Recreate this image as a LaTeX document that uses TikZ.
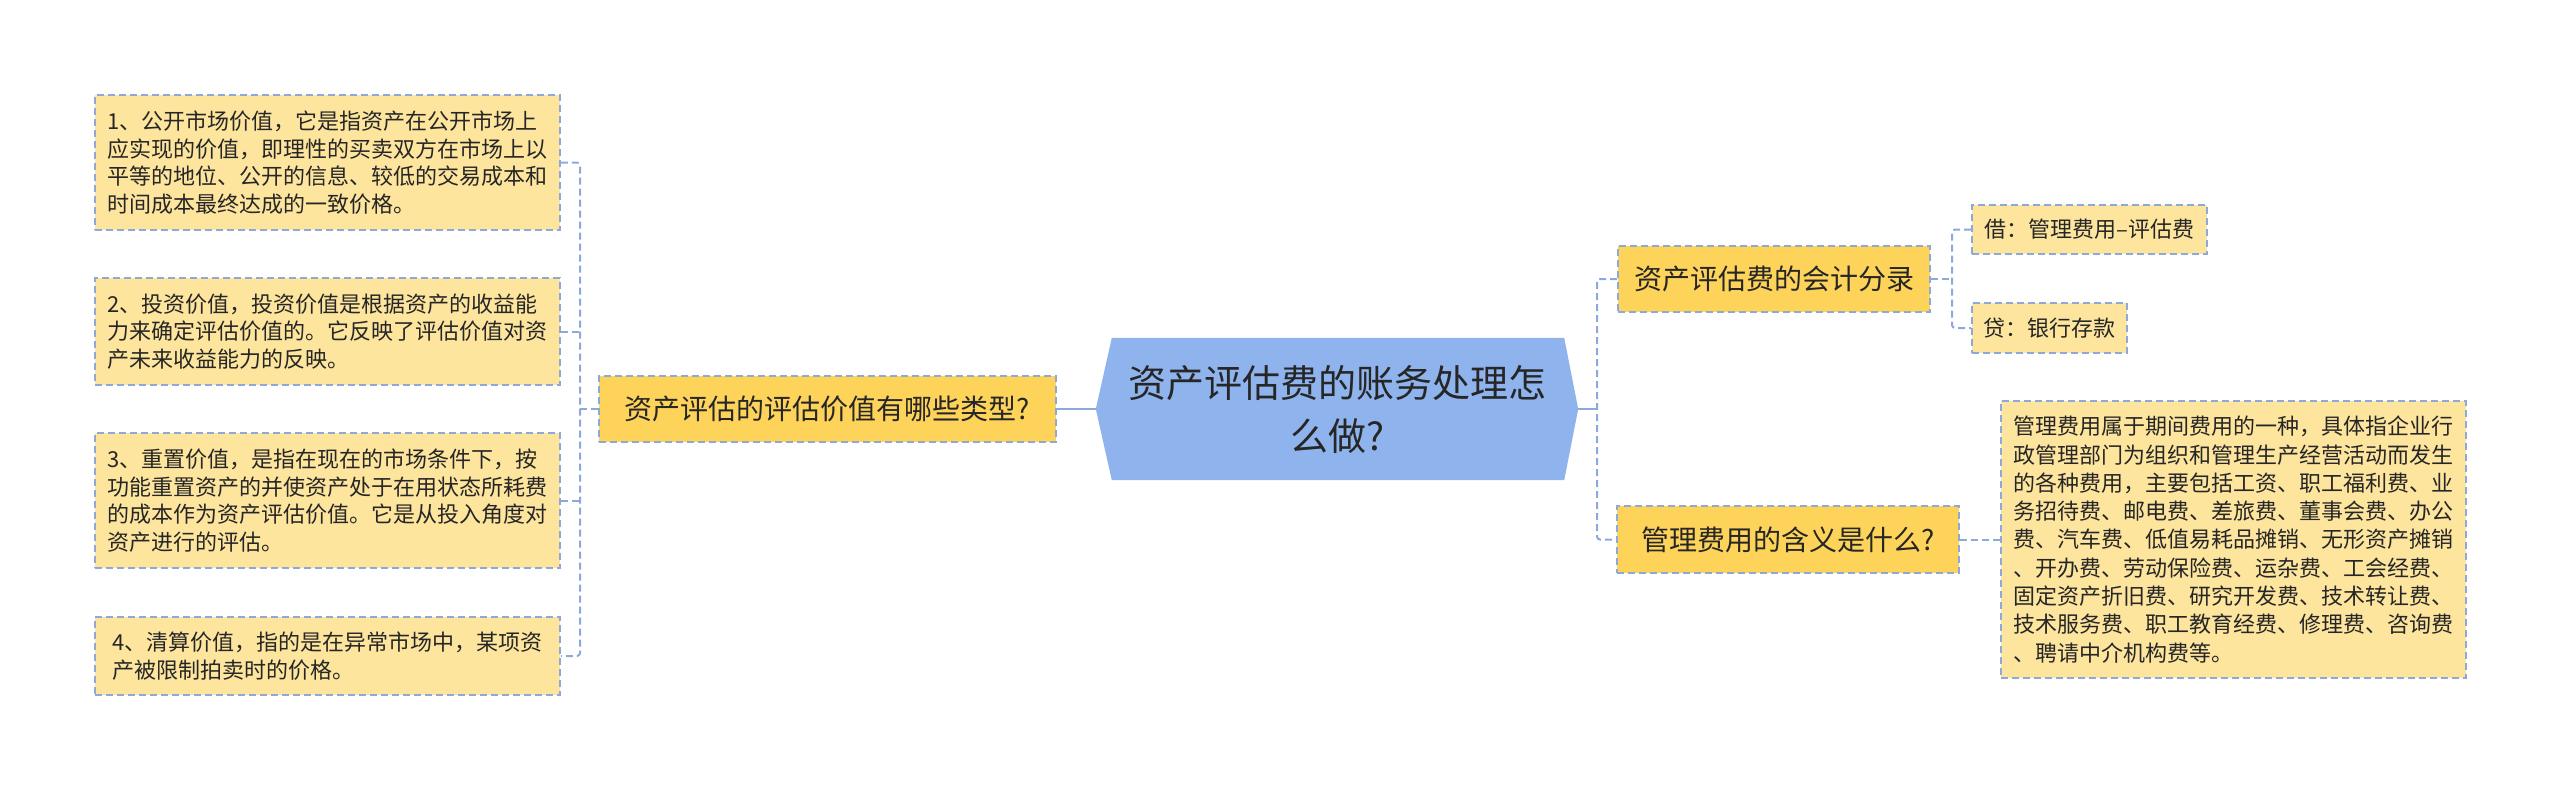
\documentclass[tikz,border=0pt]{standalone}
\usepackage{fontspec}
\setmainfont{Noto Sans CJK SC}
\usetikzlibrary{backgrounds}
\definecolor{cfill}{HTML}{8FB3EC}
\definecolor{lonefill}{HTML}{FDD35A}
\definecolor{leaffill}{HTML}{FDE59E}
\definecolor{bline}{HTML}{8DA9DB}
\definecolor{txt}{HTML}{262626}
\tikzset{
  boxbase/.style={draw=bline, line width=1.6pt, dash pattern=on 7pt off 4pt, inner sep=0pt, text=txt},
  leafbox/.style={boxbase, fill=leaffill, align=left, font=\fontsize{22}{27.5}\selectfont},
  lonebox/.style={boxbase, fill=lonefill, align=center, font=\fontsize{28}{34}\selectfont},
  conn/.style={draw=bline, line width=2pt, dash pattern=on 7pt off 4pt, rounded corners=3pt},
  mainconn/.style={draw=bline, line width=2.4pt},
}
\begin{document}
\begin{tikzpicture}[x=1pt,y=-1pt]
\useasboundingbox (0,0) rectangle (2560,790);

% center
\node[align=center, text=txt, font=\fontsize{38}{53}\selectfont, minimum width=482pt, minimum height=142pt, inner sep=0pt] (c) at (1337,409) {资产评估费的账务处理怎\\么做?};
\begin{scope}[on background layer]
\fill[cfill] (c.west) -- ([xshift=16pt]c.north west) -- ([xshift=-14pt]c.north east) -- (c.east) -- ([xshift=-14pt]c.south east) -- ([xshift=16pt]c.south west) -- cycle;
\end{scope}

% left branch
\node[lonebox, minimum width=457pt, minimum height=66pt] (ln) at (827.5,409) {资产评估的评估价值有哪些类型?};
\node[leafbox, minimum width=465pt, minimum height=135pt] (la) at (327.5,162.5) {1、公开市场价值，它是指资产在公开市场上\\应实现的价值，即理性的买卖双方在市场上以\\平等的地位、公开的信息、较低的交易成本和\\时间成本最终达成的一致价格。};
\node[leafbox, minimum width=465pt, minimum height=107pt] (lb2) at (327.5,331.5) {2、投资价值，投资价值是根据资产的收益能\\力来确定评估价值的。它反映了评估价值对资\\产未来收益能力的反映。};
\node[leafbox, minimum width=465pt, minimum height=135pt] (lc) at (327.5,500.5) {3、重置价值，是指在现在的市场条件下，按\\功能重置资产的并使资产处于在用状态所耗费\\的成本作为资产评估价值。它是从投入角度对\\资产进行的评估。};
\node[leafbox, minimum width=465pt, minimum height=78pt] (ld) at (327.5,656) {4、清算价值，指的是在异常市场中，某项资\\产被限制拍卖时的价格。};

% right branch
\node[lonebox, minimum width=312pt, minimum height=66pt] (ra) at (1774,279) {资产评估费的会计分录};
\node[lonebox, minimum width=342pt, minimum height=67pt] (rb) at (1788,539.5) {管理费用的含义是什么?};
\node[leafbox, minimum width=235pt, minimum height=49pt] (sa) at (2089.5,229.5) {借：管理费用–评估费};
\node[leafbox, minimum width=155pt, minimum height=50pt] (sb) at (2049.5,328) {贷：银行存款};
\node[leafbox, font=\fontsize{22}{28.3}\selectfont, minimum width=465pt, minimum height=277pt] (big) at (2233.5,539.5) {管理费用属于期间费用的一种，具体指企业行\\政管理部门为组织和管理生产经营活动而发生\\的各种费用，主要包括工资、职工福利费、业\\务招待费、邮电费、差旅费、董事会费、办公\\费、汽车费、低值易耗品摊销、无形资产摊销\\、开办费、劳动保险费、运杂费、工会经费、\\固定资产折旧费、研究开发费、技术转让费、\\技术服务费、职工教育经费、修理费、咨询费\\、聘请中介机构费等。};

% bracket coordinates
\coordinate (lbk) at (580,409);
\coordinate (rbk) at (1597,409);
\coordinate (sbk) at (1952,279);

% connectors
\draw[mainconn] (c.west) -- (ln.east);
\draw[conn] (ln.west) -- (lbk);
\draw[conn] (la.east) -- (la.east -| lbk) -- (ld.east -| lbk) -- (ld.east);
\draw[conn] (lb2.east) -- (lb2.east -| lbk);
\draw[conn] (lc.east) -- (lc.east -| lbk);

\draw[mainconn] (c.east) -- (rbk);
\draw[conn] (ra.west) -- (ra.west -| rbk) -- (rb.west -| rbk) -- (rb.west);
\draw[conn] (ra.east) -- (sbk);
\draw[conn] (sa.west) -- (sa.west -| sbk) -- (sb.west -| sbk) -- (sb.west);
\draw[conn] (rb.east) -- (big.west);
\end{tikzpicture}
\end{document}
